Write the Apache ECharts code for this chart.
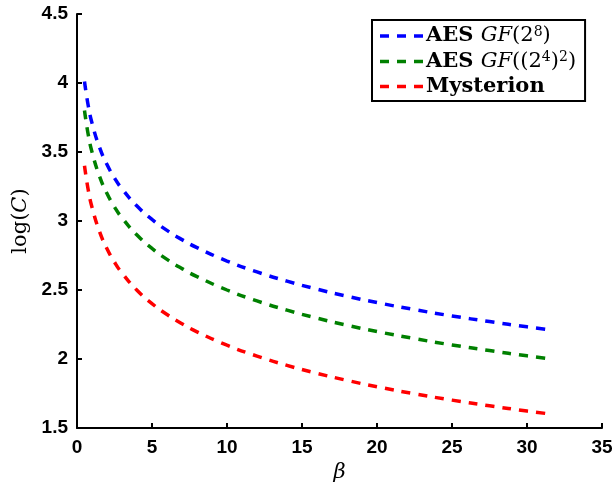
<!DOCTYPE html>
<html>
<head>
<meta charset="utf-8">
<style>
  html, body { margin: 0; padding: 0; background: #fff; }
  #chart { width: 616px; height: 485px; }
</style>
<script src="https://cdn.jsdelivr.net/npm/echarts@6/dist/echarts.min.js"></script>
</head>
<body>
<div id="chart"></div>
<script>
// Sample positions along the beta axis
const beta = [0.5, 0.75, 1, 1.5, 2, 2.5, 3, 4, 5, 6, 7, 8, 10, 12, 14, 16, 18, 20, 22.5, 25, 27.5, 30, 31.5];

// log(C) for each cipher implementation
const aesGF28 = [4.011, 3.835, 3.710, 3.534, 3.409, 3.312, 3.233, 3.108, 3.011, 2.932, 2.865, 2.807, 2.710, 2.631, 2.564, 2.506, 2.455, 2.409, 2.358, 2.312, 2.271, 2.233, 2.212];
const aesGF242 = [3.801, 3.625, 3.500, 3.324, 3.199, 3.102, 3.023, 2.898, 2.801, 2.722, 2.655, 2.597, 2.500, 2.421, 2.354, 2.296, 2.245, 2.199, 2.148, 2.102, 2.061, 2.023, 2.002];
const mysterion = [3.401, 3.225, 3.100, 2.924, 2.799, 2.702, 2.623, 2.498, 2.401, 2.322, 2.255, 2.197, 2.100, 2.021, 1.954, 1.896, 1.845, 1.799, 1.748, 1.702, 1.661, 1.623, 1.602];

const seriesNames = ['AES GF(2⁸)', 'AES GF((2⁴)²)', 'Mysterion'];
const seriesColors = ['#0000ff', '#008000', '#ff0000'];
const seriesValues = [aesGF28, aesGF242, mysterion];

// Rich-text legend labels (bold word, italic field name, raised exponents)
const legendText = {
  'AES GF(2⁸)': '{b|AES }{i|GF}{r|(2}{s|8}{r|)}',
  'AES GF((2⁴)²)': '{b|AES }{i|GF}{r|((2}{s|4}{r|)}{s|2}{r|)}',
  'Mysterion': '{b|Mysterion}'
};

// Legend key: three short dashes, same proportions as the plotted lines
const dashKey = 'path://M0,0H18V7H0Z M34,0H52V7H34Z M68,0H86V7H68Z';

const chart = echarts.init(document.getElementById('chart'), null, { renderer: 'canvas' });

const tickFont = { color: '#000', fontFamily: 'Liberation Sans', fontWeight: 'bold', fontSize: 19 };

chart.setOption({
  animation: false,
  backgroundColor: '#fff',
  grid: { left: 77, right: 14, top: 14, bottom: 57, containLabel: false, outerBoundsMode: 'none' },
  legend: {
    orient: 'vertical',
    left: 372,
    top: 20,
    padding: [5, 9, 4, 8],
    itemGap: 4,
    itemWidth: 43,
    itemHeight: 3.5,
    backgroundColor: '#fff',
    borderColor: '#000',
    borderWidth: 2,
    borderRadius: 0,
    data: seriesNames.map((n, k) => ({ name: n, icon: dashKey, itemStyle: { color: seriesColors[k] } })),
    formatter: name => legendText[name],
    textStyle: {
      padding: [0, 0, 0, -2],
      rich: {
        b: { fontFamily: 'DejaVu Serif', fontWeight: 'bold', fontSize: 21, color: '#000', lineHeight: 22 },
        i: { fontFamily: 'DejaVu Serif', fontStyle: 'italic', fontSize: 21, color: '#000', lineHeight: 22 },
        r: { fontFamily: 'DejaVu Serif', fontSize: 21, color: '#000', lineHeight: 22 },
        s: { fontFamily: 'DejaVu Serif', fontSize: 14, color: '#000', lineHeight: 14, verticalAlign: 'top' }
      }
    }
  },
  xAxis: {
    type: 'value',
    min: 0,
    max: 35,
    interval: 5,
    name: 'β',
    nameLocation: 'middle',
    nameGap: 33,
    nameTextStyle: { fontFamily: 'DejaVu Serif', fontStyle: 'italic', fontSize: 21, color: '#000' },
    axisLine: { show: true, onZero: false, lineStyle: { color: '#000', width: 2 } },
    axisTick: { show: true, inside: true, length: 5, lineStyle: { color: '#000', width: 2 } },
    axisLabel: Object.assign({ margin: 10 }, tickFont),
    splitLine: { show: false }
  },
  yAxis: {
    type: 'value',
    min: 1.5,
    max: 4.5,
    interval: 0.5,
    name: '{n|log(}{i|C}{n|)}',
    nameLocation: 'middle',
    nameGap: 42,
    nameRotate: 90,
    nameTextStyle: {
      rich: {
        n: { fontFamily: 'DejaVu Serif', fontSize: 21, color: '#000' },
        i: { fontFamily: 'DejaVu Serif', fontStyle: 'italic', fontSize: 21, color: '#000' }
      }
    },
    axisLine: { show: true, onZero: false, lineStyle: { color: '#000', width: 2 } },
    axisTick: { show: true, inside: true, length: 5, lineStyle: { color: '#000', width: 2 } },
    axisLabel: Object.assign({ margin: 9 }, tickFont),
    splitLine: { show: false }
  },
  series: seriesNames.map((name, k) => ({
    name: name,
    type: 'line',
    smooth: true,
    showSymbol: false,
    symbol: 'none',
    data: beta.map((b, i) => [b, seriesValues[k][i]]),
    lineStyle: { color: seriesColors[k], width: 3.5, type: [9, 8], cap: 'butt' },
    itemStyle: { color: seriesColors[k] }
  }))
});
</script>
</body>
</html>
